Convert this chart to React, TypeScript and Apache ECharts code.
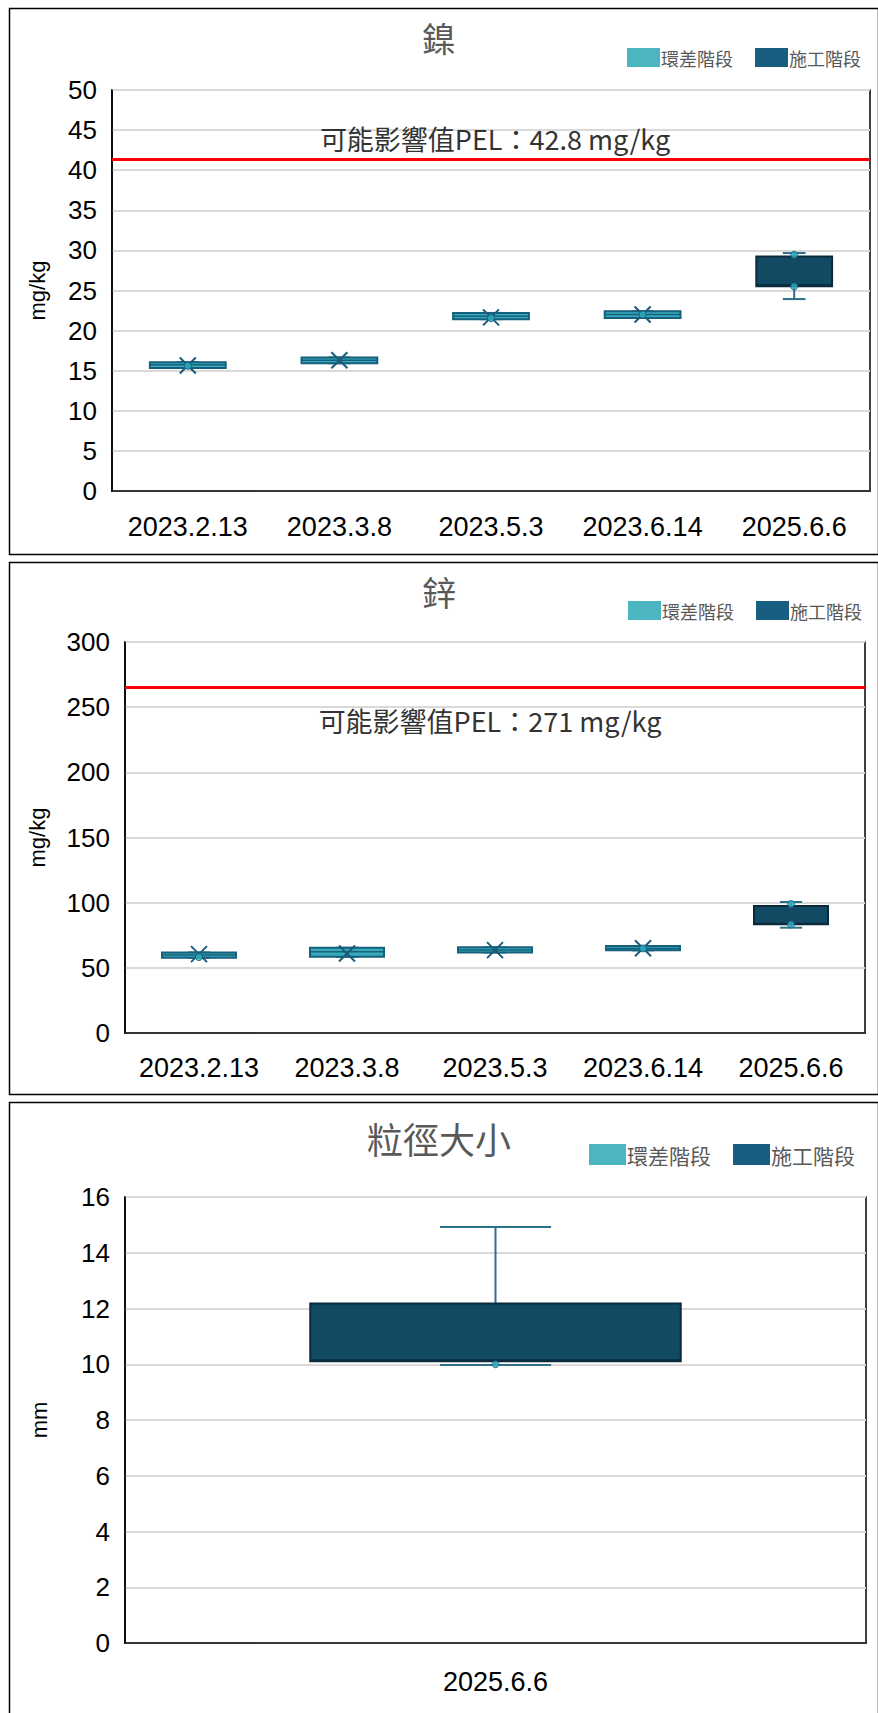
import React, { useEffect, useRef } from "react";
import * as echarts from "echarts";

// ---------- data ----------
const DATES_A = ["2023.2.13", "2023.3.8", "2023.5.3", "2023.6.14", "2025.6.6"];
const DATES_B = ["2025.6.6"];
// stage: 0 = 環差階段, 1 = 施工階段
const STAGE_A = [0, 0, 0, 0, 1];
const STAGE_B = [1];

// [min, Q1, median, Q3, max]
const NI_BOX = [
  [15.35, 15.35, 15.73, 16.06, 16.06],
  [15.93, 15.93, 16.3, 16.65, 16.65],
  [21.42, 21.42, 21.8, 22.2, 22.2],
  [21.58, 21.58, 22.0, 22.42, 22.42],
  [23.93, 25.53, 25.7, 29.25, 29.67],
];
const NI_MEAN = [15.64, 16.3, 21.65, 22.0, null];
const NI_POINTS = [[0, 15.6], [2, 21.55], [3, 22.0], [4, 29.45], [4, 25.5]];
const NI_PEL_LINE = 41.4;
const NI_PEL_TEXT = "可能影響值PEL：42.8 mg/kg";

const ZN_BOX = [
  [57.7, 57.7, 59.8, 61.8, 61.8],
  [58.5, 58.5, 62.3, 65.4, 65.4],
  [61.8, 61.8, 63.6, 65.7, 65.7],
  [63.4, 63.4, 64.9, 66.7, 66.7],
  [80.8, 83.4, 84.0, 97.5, 100.5],
];
const ZN_MEAN = [60.5, 61.0, 63.6, 65.0, null];
const ZN_POINTS = [[0, 58.2], [3, 64.9], [4, 99], [4, 83.3]];
const ZN_PEL_LINE = 265.5;
const ZN_PEL_TEXT = "可能影響值PEL：271 mg/kg";

const GRAIN_BOX = [[9.97, 10.11, 10.15, 12.18, 14.92]];
const GRAIN_MEAN = [null];
const GRAIN_POINTS = [[0, 10.0]];

const TITLES = ["鎳", "鋅", "粒徑大小"];
const UNITS = ["mg/kg", "mg/kg", "mm"];
const LEGEND_NAMES = ["環差階段", "施工階段"];

// ---------- styles ----------
const C_BASE = "#36abbb";
const C_BASE_LEG = "#4bb5c1";
const C_CONS = "#134a63";
const C_CONS_LEG = "#175e80";
const C_BORDER = ["#17607d", "#0b2b3c"];
const C_WHISK = "#2e6f8c";
const C_MARK = "#1b5a78";
const LATIN = "'Liberation Sans', Arial, sans-serif";
const CJK = "'Noto Sans CJK TC', 'Noto Sans CJK SC', sans-serif";

function boxRender(params: any, api: any) {
  const i = api.value(0);
  const vMin = api.coord([i, api.value(1)]);
  const vQ1 = api.coord([i, api.value(2)]);
  const vMed = api.coord([i, api.value(3)]);
  const vQ3 = api.coord([i, api.value(4)]);
  const vMax = api.coord([i, api.value(5)]);
  const stage = api.value(6);
  const band = api.size([1, 0])[0];
  const bw = band * 0.5;
  const cap = bw * 0.3;
  const x = vMed[0];
  const fill = stage === 1 ? C_CONS : C_BASE;
  const border = C_BORDER[stage === 1 ? 1 : 0];
  const wl = { stroke: C_WHISK, lineWidth: 2 };
  return {
    type: "group",
    children: [
      { type: "line", shape: { x1: x, y1: vMax[1], x2: x, y2: vQ3[1] }, style: wl },
      { type: "line", shape: { x1: x, y1: vQ1[1], x2: x, y2: vMin[1] }, style: wl },
      { type: "line", shape: { x1: x - cap / 2, y1: vMax[1], x2: x + cap / 2, y2: vMax[1] }, style: wl },
      { type: "line", shape: { x1: x - cap / 2, y1: vMin[1], x2: x + cap / 2, y2: vMin[1] }, style: wl },
      {
        type: "rect",
        shape: { x: x - bw / 2, y: vQ3[1], width: bw, height: Math.max(vQ1[1] - vQ3[1], 1) },
        style: { fill, stroke: border, lineWidth: 2 },
      },
      { type: "line", shape: { x1: x - bw / 2, y1: vMed[1], x2: x + bw / 2, y2: vMed[1] }, style: { stroke: border, lineWidth: 1.5 } },
    ],
  };
}

function meanRender(params: any, api: any) {
  const p = api.coord([api.value(0), api.value(1)]);
  const s = 8;
  const st = { stroke: C_MARK, lineWidth: 2 };
  return {
    type: "group",
    children: [
      { type: "line", shape: { x1: p[0] - s, y1: p[1] - s, x2: p[0] + s, y2: p[1] + s }, style: st },
      { type: "line", shape: { x1: p[0] - s, y1: p[1] + s, x2: p[0] + s, y2: p[1] - s }, style: st },
    ],
  };
}

function panelSeries(idx: number, box: number[][], stages: number[], means: (number | null)[], points: number[][], pel: number | null) {
  const boxData = box.map((b, i) => [i, ...b, stages[i]]);
  const meanData = means.map((m, i) => (m === null ? null : [i, m])).filter((d) => d !== null);
  const scatter: any = {
    type: "scatter",
    name: "points" + idx,
    xAxisIndex: idx,
    yAxisIndex: idx,
    symbol: "circle",
    symbolSize: 7,
    z: 5,
    itemStyle: { color: "#2ab3c4", borderColor: C_MARK, borderWidth: 1 },
    data: points,
  };
  if (pel !== null) {
    scatter.markLine = {
      silent: true,
      symbol: "none",
      label: { show: false },
      lineStyle: { color: "#ff0000", width: 3, type: "solid" },
      data: [{ yAxis: pel }],
    };
  }
  return [
    {
      type: "custom",
      name: "box" + idx,
      xAxisIndex: idx,
      yAxisIndex: idx,
      encode: { x: 0, y: [1, 2, 3, 4, 5] },
      renderItem: boxRender,
      data: boxData,
      z: 3,
    },
    {
      type: "custom",
      name: "mean" + idx,
      xAxisIndex: idx,
      yAxisIndex: idx,
      encode: { x: 0, y: 1 },
      renderItem: meanRender,
      data: meanData,
      z: 4,
    },
    scatter,
  ];
}

function xAxis(idx: number, cats: string[], margin: number) {
  return {
    type: "category",
    gridIndex: idx,
    data: cats,
    boundaryGap: true,
    axisLine: { show: true, lineStyle: { color: "#000", width: 1.5 } },
    axisTick: { show: false },
    axisLabel: { color: "#000", fontSize: 27, fontFamily: LATIN, margin, interval: 0, hideOverlap: false },
    splitLine: { show: false },
  };
}

function yAxis(idx: number, max: number, interval: number, name: string, gap: number) {
  return {
    type: "value",
    gridIndex: idx,
    min: 0,
    max,
    interval,
    name,
    nameLocation: "middle",
    nameGap: gap,
    nameRotate: 90,
    nameTextStyle: { color: "#000", fontSize: 22, fontFamily: LATIN },
    axisLine: { show: true, lineStyle: { color: "#000", width: 1.5 } },
    axisTick: { show: false },
    axisLabel: { color: "#000", fontSize: 26, fontFamily: LATIN, margin: 15 },
    splitLine: { show: true, lineStyle: { color: "#d9d9d9", width: 2 } },
  };
}

function legend(left: number, top: number, w: number, h: number, fs: number, gap: number) {
  return {
    data: LEGEND_NAMES,
    left,
    top,
    padding: 0,
    itemWidth: w,
    itemHeight: h,
    itemGap: gap,
    icon: "rect",
    selectedMode: false,
    textStyle: { color: "#595959", fontSize: fs, fontFamily: CJK, padding: [0, 0, 0, -4] },
  };
}

function title(text: string, top: number, fs: number) {
  return {
    text,
    left: "center",
    top,
    textStyle: { color: "#595959", fontSize: fs, fontWeight: "normal", fontFamily: CJK },
  };
}

export default function App() {
  const ref = useRef<HTMLDivElement>(null);
  useEffect(() => {
    if (!ref.current) return;
    const chart = echarts.init(ref.current, null, { renderer: "svg" });
    const option: any = {
      animation: false,
      backgroundColor: "#fff",
      title: [title(TITLES[0], 15, 34), title(TITLES[1], 569, 34), title(TITLES[2], 1115, 36)],
      legend: [
        legend(627, 48, 33, 19, 18, 22),
        legend(628, 601, 33, 19, 18, 22),
        legend(589, 1144, 37, 21, 21, 22),
      ],
      grid: [
        { left: 112, right: 8, top: 90, height: 401, show: true, borderColor: "#000", borderWidth: 1.5, backgroundColor: "#fff" },
        { left: 125, right: 13, top: 642, height: 391, show: true, borderColor: "#000", borderWidth: 1.5, backgroundColor: "#fff" },
        { left: 125, right: 12, top: 1197, height: 446, show: true, borderColor: "#000", borderWidth: 1.5, backgroundColor: "#fff" },
      ],
      xAxis: [xAxis(0, DATES_A, 22), xAxis(1, DATES_A, 21), xAxis(2, DATES_B, 25)],
      yAxis: [
        yAxis(0, 50, 5, UNITS[0], 64),
        yAxis(1, 300, 50, UNITS[1], 77),
        yAxis(2, 16, 2, UNITS[2], 75),
      ],
      series: [
        { type: "bar", name: LEGEND_NAMES[0], xAxisIndex: 0, yAxisIndex: 0, data: [], itemStyle: { color: C_BASE_LEG } },
        { type: "bar", name: LEGEND_NAMES[1], xAxisIndex: 0, yAxisIndex: 0, data: [], itemStyle: { color: C_CONS_LEG } },
        ...panelSeries(0, NI_BOX, STAGE_A, NI_MEAN, NI_POINTS, NI_PEL_LINE),
        ...panelSeries(1, ZN_BOX, STAGE_A, ZN_MEAN, ZN_POINTS, ZN_PEL_LINE),
        ...panelSeries(2, GRAIN_BOX, STAGE_B, GRAIN_MEAN, GRAIN_POINTS, null),
      ],
      graphic: [
        { type: "rect", left: 7, top: 6, z: 100, shape: { width: 869, height: 546 }, style: { fill: "none", stroke: "#000", lineWidth: 1.5 } },
        { type: "rect", left: 7, top: 560, z: 100, shape: { width: 869, height: 532 }, style: { fill: "none", stroke: "#000", lineWidth: 1.5 } },
        { type: "rect", left: 7, top: 1100, z: 100, shape: { width: 869, height: 640 }, style: { fill: "none", stroke: "#000", lineWidth: 1.5 } },
        {
          type: "text", x: 495, y: 138, z: 100,
          style: { text: NI_PEL_TEXT, fill: "#333", fontSize: 27, fontFamily: CJK, align: "center", verticalAlign: "middle" },
        },
        {
          type: "text", x: 490, y: 720, z: 100,
          style: { text: ZN_PEL_TEXT, fill: "#333", fontSize: 27, fontFamily: CJK, align: "center", verticalAlign: "middle" },
        },
      ],
    };
    chart.setOption(option);
    return () => chart.dispose();
  }, []);
  return <div ref={ref} style={{ position: "absolute", left: 0, top: 0, width: 878, height: 1713 }} />;
}
